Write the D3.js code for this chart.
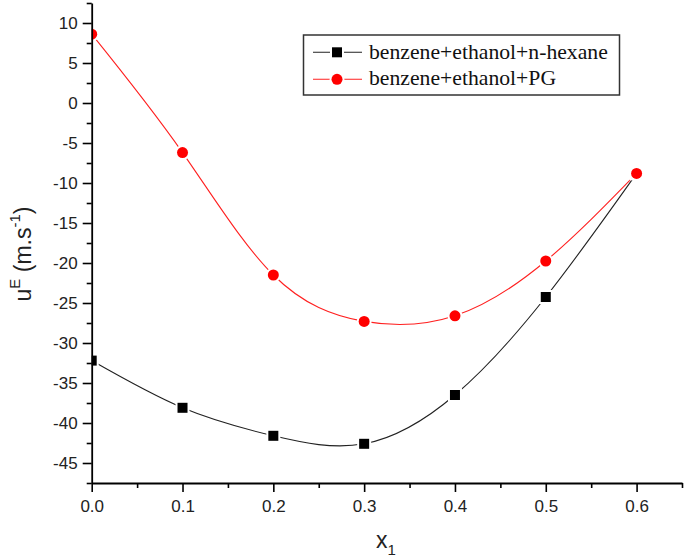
<!DOCTYPE html>
<html>
<head>
<meta charset="utf-8">
<script src="https://cdn.jsdelivr.net/npm/d3@7"></script>
<style>
  html, body { margin: 0; padding: 0; background: #fff; }
  svg { display: block; }
</style>
</head>
<body>
<script>
// ---- data ----
const xValues = [0.0, 0.1, 0.2, 0.3, 0.4, 0.5, 0.6];
const hexaneValues = [-32.2, -38.1, -41.6, -42.6, -36.5, -24.25, -8.8];
const pgValues = [8.6, -6.2, -21.5, -27.3, -26.6, -19.75, -8.8];
const seriesNames = ["benzene+ethanol+n-hexane", "benzene+ethanol+PG"];
const xTicks = [0.0, 0.1, 0.2, 0.3, 0.4, 0.5, 0.6];
const yTicks = [10, 5, 0, -5, -10, -15, -20, -25, -30, -35, -40, -45];

const W = 685, H = 560;
const svg = d3.select("body").append("svg").attr("width", W).attr("height", H);

const x = d3.scaleLinear().domain([0, 0.65]).range([91.7, 682]);
const y = d3.scaleLinear().domain([-47.5, 12.5]).range([483, 3]);

// clip
svg.append("defs").append("clipPath").attr("id", "clip")
  .append("rect").attr("x", x(0)).attr("y", 0).attr("width", x(0.65) - x(0)).attr("height", y(-47.5));

const plot = svg.append("g").attr("clip-path", "url(#clip)");

const series = [
  { name: seriesNames[0], values: hexaneValues, color: "#000", line: "#222", shape: "square" },
  { name: seriesNames[1], values: pgValues, color: "#ff0000", line: "#ff2020", shape: "circle" }
];

const line = d3.line().x(d => x(d[0])).y(d => y(d[1])).curve(d3.curveNatural);

function drawMarker(g, shape, cx, cy, color) {
  if (shape === "square") {
    g.append("rect").attr("x", cx - 5).attr("y", cy - 5).attr("width", 10).attr("height", 10)
      .attr("fill", color).attr("stroke", "#fff").attr("stroke-width", 4).attr("paint-order", "stroke");
  } else {
    g.append("circle").attr("cx", cx).attr("cy", cy).attr("r", 5.5)
      .attr("fill", color).attr("stroke", "#fff").attr("stroke-width", 4).attr("paint-order", "stroke");
  }
}

series.forEach(s => {
  const pts = xValues.map((v, i) => [v, s.values[i]]);
  plot.append("path").attr("d", line(pts)).attr("fill", "none")
    .attr("stroke", s.line).attr("stroke-width", 1.1);
});
series.forEach(s => {
  const g = plot.append("g");
  xValues.forEach((v, i) => drawMarker(g, s.shape, x(v), y(s.values[i]), s.color));
});

// axes
const fontSans = "'Liberation Sans', Arial, sans-serif";
const xMinor = d3.range(0, 0.651, 0.05).filter(v => !xTicks.some(t => Math.abs(t - v) < 1e-6));
const yMinor = d3.range(-47.5, 12.51, 2.5).filter(v => !yTicks.some(t => Math.abs(t - v) < 1e-6));

const xAxis = svg.append("g").attr("transform", `translate(0,${y(-47.5)})`)
  .call(d3.axisBottom(x).tickValues(xTicks).tickFormat(d3.format(".1f")).tickSize(9).tickPadding(8).tickSizeOuter(0));
svg.append("g").attr("transform", `translate(0,${y(-47.5)})`)
  .call(d3.axisBottom(x).tickValues(xMinor).tickFormat("").tickSize(5).tickSizeOuter(0))
  .select(".domain").remove();

const yAxis = svg.append("g").attr("transform", `translate(${x(0)},0)`)
  .call(d3.axisLeft(y).tickValues(yTicks).tickFormat(d3.format("d")).tickSize(9).tickPadding(5).tickSizeOuter(0));
svg.append("g").attr("transform", `translate(${x(0)},0)`)
  .call(d3.axisLeft(y).tickValues(yMinor).tickFormat("").tickSize(5).tickSizeOuter(0))
  .select(".domain").remove();

svg.selectAll(".domain").attr("stroke", "#000").attr("stroke-width", 1.8);
svg.selectAll(".tick line").attr("stroke", "#000").attr("stroke-width", 1.6);
svg.selectAll(".tick text").attr("font-family", fontSans).attr("font-size", 17).attr("fill", "#222");
yAxis.selectAll(".tick text").text(d => d < 0 ? "-" + Math.abs(d) : d);

// axis titles
const xt = svg.append("text").attr("x", 376).attr("y", 548)
  .attr("font-family", fontSans).attr("font-size", 23).attr("fill", "#222");
xt.append("tspan").text("x");
xt.append("tspan").attr("font-size", 15).attr("dy", 7).text("1");

const yt = svg.append("text").attr("transform", "translate(31,254) rotate(-90)")
  .attr("text-anchor", "middle")
  .attr("font-family", fontSans).attr("font-size", 23).attr("fill", "#222");
yt.append("tspan").text("u");
yt.append("tspan").attr("font-size", 15).attr("dy", -11).text("E");
yt.append("tspan").attr("dy", 11).text(" (m.s");
yt.append("tspan").attr("font-size", 15).attr("dy", -11).text("-1");
yt.append("tspan").attr("dy", 11).text(")");

// legend
const leg = svg.append("g");
leg.append("rect").attr("x", 303.5).attr("y", 35).attr("width", 316).attr("height", 60)
  .attr("fill", "#fff").attr("stroke", "#333").attr("stroke-width", 1.5);
series.forEach((s, i) => {
  const cy = 52.3 + i * 27;
  leg.append("line").attr("x1", 313).attr("x2", 362).attr("y1", cy).attr("y2", cy)
    .attr("stroke", s.line).attr("stroke-width", 1.1);
  drawMarker(leg, s.shape, 337, cy, s.color);
  leg.append("text").attr("x", 369).attr("y", 58.5 + i * 26.5)
    .attr("font-family", "'Liberation Serif', 'Times New Roman', serif")
    .attr("font-size", 21.7).attr("fill", "#111").text(s.name);
});
</script>
</body>
</html>
